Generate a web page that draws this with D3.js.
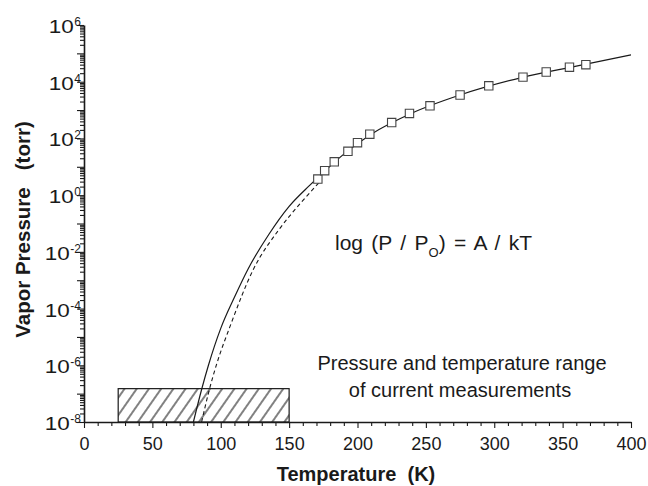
<!DOCTYPE html>
<html><head><meta charset="utf-8">
<script src="https://cdn.jsdelivr.net/npm/d3@7"></script>
<style>
html,body{margin:0;padding:0;background:#fff;}
svg{display:block;font-family:Arial,"Liberation Sans",Helvetica,sans-serif;}
text{white-space:pre;}
</style></head><body>
<svg id="chart" width="648" height="486"></svg>
<script>
// Measured vapour pressure (torr) against temperature (K)
const measuredT = [171, 176, 183, 193, 200, 209, 225, 238, 253, 275, 296, 321, 338, 355, 367];
const measuredP = [3.7, 7.3, 15, 35, 71, 141, 363, 760, 1410, 3400, 7200, 14500, 22000, 32600, 40000];
// Solid fit curve
const fitT = [80, 86, 91, 100, 110, 120, 135, 150, 165, 175, 190, 210, 240, 275, 320, 360, 400];
const fitP = [1e-8, 1.4e-7, 1e-6, 2e-5, 2.5e-4, 2.5e-3, 0.04, 0.4, 2.2, 6.3, 28, 141, 790, 3400, 14000, 35500, 89000];
// Dashed curve
const altT = [86, 92, 97, 107, 124, 142, 158, 172];
const altP = [1e-8, 1.6e-7, 1.1e-6, 2.5e-5, 2.5e-3, 0.056, 0.5, 2.8];
// Range covered by the current measurements
const rangeT = [25, 150];
const rangeP = [1e-8, 1.5e-7];
// Axis ticks
const xTicks = [0, 50, 100, 150, 200, 250, 300, 350, 400];
const yExponents = [6, 4, 2, 0, -2, -4, -6, -8];

const svg = d3.select("#chart");
const x = d3.scaleLinear().domain([0, 400]).range([84, 631]);
const y = d3.scaleLog().domain([1e-8, 1e6]).range([422, 25]);
const ink = "#1a1a1a";

// hatch pattern for the measurement range box
const defs = svg.append("defs");
const pat = defs.append("pattern")
  .attr("id", "hatch").attr("patternUnits", "userSpaceOnUse")
  .attr("width", 10).attr("height", 10)
  .attr("patternTransform", "rotate(35)");
pat.append("rect").attr("width", 10).attr("height", 10).attr("fill", "#fff");
pat.append("line").attr("x1", 5).attr("y1", 0).attr("x2", 5).attr("y2", 10)
  .attr("stroke", ink).attr("stroke-width", 1.1);

svg.append("rect")
  .attr("x", x(rangeT[0])).attr("y", y(rangeP[1]))
  .attr("width", x(rangeT[1]) - x(rangeT[0]))
  .attr("height", y(rangeP[0]) - y(rangeP[1]))
  .attr("fill", "url(#hatch)").attr("stroke", ink).attr("stroke-width", 1.2);

// y axis: decades, plus 2..9 minor ticks
const decades = d3.range(-8, 7).map(e => Math.pow(10, e));
const minors = [];
d3.range(-8, 6).forEach(e => { for (let k = 2; k <= 9; k++) minors.push(k * Math.pow(10, e)); });

const yMinor = svg.append("g").attr("transform", "translate(84,0)")
  .call(d3.axisLeft(y).tickValues(minors).tickSize(4).tickSizeOuter(0).tickFormat(""));
yMinor.select(".domain").remove();
const yAxis = svg.append("g").attr("transform", "translate(84,0)")
  .call(d3.axisLeft(y).tickValues(decades).tickSize(7).tickSizeOuter(0).tickFormat(""));

// x axis: majors every 50, minors every 10
const xMinorVals = d3.range(0, 401, 10).filter(v => v % 50 !== 0);
const xMinor = svg.append("g").attr("transform", "translate(0,422)")
  .call(d3.axisBottom(x).tickValues(xMinorVals).tickSize(4).tickSizeOuter(0).tickFormat(""));
xMinor.select(".domain").remove();
const xAxis = svg.append("g").attr("transform", "translate(0,422)")
  .call(d3.axisBottom(x).tickValues(xTicks).tickSize(6).tickSizeOuter(0).tickPadding(9));

svg.selectAll(".domain").attr("stroke", ink).attr("stroke-width", 1.6);
svg.selectAll(".tick line").attr("stroke", ink).attr("stroke-width", 1.1);
xAxis.selectAll("text").attr("font-size", 18).attr("font-family", "Arial, 'Liberation Sans', sans-serif").attr("fill", ink);

// y tick labels as 10^n (the base is set slightly wide)
const yl = svg.append("g").attr("fill", ink);
yExponents.forEach(e => {
  const yy = y(Math.pow(10, e));
  const sup = yl.append("text").attr("x", 81).attr("y", yy + 1)
    .attr("text-anchor", "end").attr("font-size", 12).text(String(e));
  const w = sup.node().getComputedTextLength();
  yl.append("text").attr("x", 81 - w - 25.5).attr("y", yy + 8)
    .attr("font-size", 18).attr("textLength", 25).attr("lengthAdjust", "spacingAndGlyphs")
    .text("10");
});

// curves
const line = d3.line().x(d => x(d[0])).y(d => y(d[1])).curve(d3.curveMonotoneX);
svg.append("path").datum(altT.map((t, i) => [t, altP[i]]))
  .attr("d", line).attr("fill", "none").attr("stroke", ink)
  .attr("stroke-width", 1.1).attr("stroke-dasharray", "4,3");
svg.append("path").datum(fitT.map((t, i) => [t, fitP[i]]))
  .attr("d", line).attr("fill", "none").attr("stroke", ink).attr("stroke-width", 1.2);

// measured points
svg.append("g").selectAll("path").data(measuredT.map((t, i) => [t, measuredP[i]]))
  .join("path")
  .attr("transform", d => `translate(${x(d[0])},${y(d[1])})`)
  .attr("d", d3.symbol(d3.symbolSquare, 70))
  .attr("fill", "#fff").attr("stroke", "#444").attr("stroke-width", 1.1);

// equation
const eq = svg.append("text").attr("x", 335).attr("y", 250).attr("font-size", 21)
  .attr("word-spacing", 2.5).attr("fill", ink);
eq.append("tspan").text("log (P / P");
eq.append("tspan").attr("font-size", 13).attr("dy", 7).text("O");
eq.append("tspan").attr("dy", -7).text(") = A / kT");

// range note
const note = svg.append("text").attr("font-size", 20).attr("fill", ink).attr("text-anchor", "middle");
note.append("tspan").attr("x", 462).attr("y", 370).text("Pressure and temperature range");
note.append("tspan").attr("x", 460).attr("y", 397).text("of current measurements");

// axis titles
svg.append("text").attr("x", 356).attr("y", 481).attr("text-anchor", "middle")
  .attr("font-size", 20).attr("font-weight", "bold").attr("fill", ink)
  .text("Temperature  (K)");
svg.append("text").attr("transform", "translate(30,229.5) rotate(-90)")
  .attr("text-anchor", "middle").attr("font-size", 20.5).attr("font-weight", "bold").attr("fill", ink)
  .text("Vapor Pressure   (torr)");
</script>
</body></html>
